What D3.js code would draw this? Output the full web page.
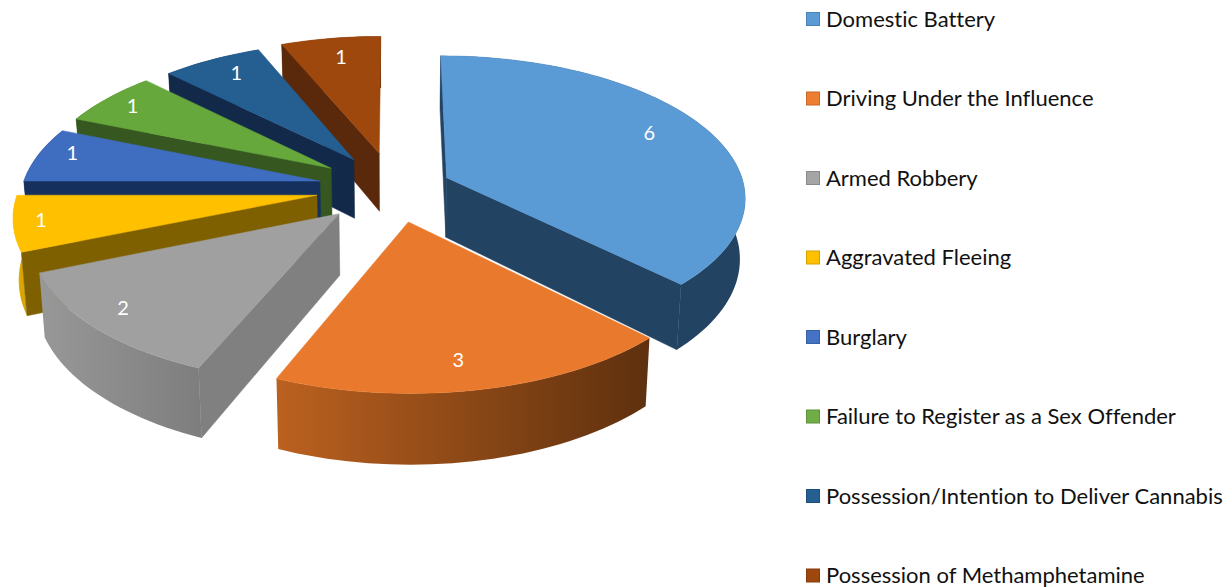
<!DOCTYPE html>
<html>
<head>
<meta charset="utf-8">
<script src="https://cdn.jsdelivr.net/npm/d3@7"></script>
<style>
html,body{margin:0;padding:0;background:#fff;overflow:hidden}
svg{display:block}
text{font-family:Lato,"Open Sans",sans-serif;font-variant-ligatures:none}
</style>
</head>
<body>
<svg id="chart" width="1232" height="587"></svg>
<script>
const categories = ["Domestic Battery","Driving Under the Influence","Armed Robbery","Aggravated Fleeing","Burglary","Failure to Register as a Sex Offender","Possession/Intention to Deliver Cannabis","Possession of Methamphetamine"];
const values = [6,3,2,1,1,1,1,1];
const topColors = ["#5b9bd5","#e97a2d","#a0a0a0","#ffc000","#3f6dc0","#66a83c","#255e91","#9e480e"];
const swatchColors = ["#5b9bd5","#ed7d31","#a5a5a5","#ffc000","#4472c4","#70ad47","#255e91","#9e480e"];
const faceColors = ["#234362","#7a3f14","#808080","#7f6000","#16305e","#36571f","#12294a","#5a280a"];
const rimLeft = ["#234362","#bb6120","#989898","#ffc000","#16305e","#36571f","#12294a","#5a280a"];
const rimRight = ["#234362","#5e300e","#7e7e7e","#d9a500","#16305e","#36571f","#12294a","#5a280a"];
const explode = [0.193,0.24,0.255,0.262,0.255,0.258,0.248,0.262];
const labelRadius = [0.80,0.84,0.87,0.91,0.89,0.88,0.84,0.82];
const labelAngle = [0.48,0.525,0.55,0.51,0.60,0.49,0.55,0.53];

const view = {cx:394, cy:188, ax:298, ay:140, k:0.128, h:60, conv:0.015};
const svg = d3.select("#chart");
const defs = svg.append("defs");

function project(X, Y, z) {
  const w = 1 - view.k * Y;
  let sx = view.ax * X / w;
  const sy = (view.ay * Y + (z ? view.h : 0)) / w;
  if (z) sx *= 1 - view.conv;
  return [view.cx + sx, view.cy + sy];
}

const pie = d3.pie().sort(null).value(d => d).startAngle(0).endAngle(2 * Math.PI);
const arcs = pie(values);
const line = d3.line();

const slices = arcs.map((a, i) => {
  const mid = (a.startAngle + a.endAngle) / 2;
  const e = explode[i];
  const ox = e * Math.sin(mid), oy = -e * Math.cos(mid);
  const n = Math.max(4, Math.round((a.endAngle - a.startAngle) / 0.03));
  const thetas = d3.range(n + 1).map(j => a.startAngle + (a.endAngle - a.startAngle) * j / n);
  const rimAt = (t, z) => project(ox + Math.sin(t), oy - Math.cos(t), z);
  return {i, a, mid, ox, oy, thetas, rimAt,
    apexTop: project(ox, oy, false), apexBot: project(ox, oy, true)};
});

// painter's order: the large first slice, then back-to-front round the left side, the second slice last
const order = [0, 7, 6, 5, 4, 3, 2, 1];

order.forEach(idx => {
  const s = slices[idx];
  const g = svg.append("g");
  const id = "rim" + idx;
  const rimTop = s.thetas.map(t => s.rimAt(t, false));
  const rimBot = s.thetas.map(t => s.rimAt(t, true));
  const xs = rimTop.map(p => p[0]);
  const grad = defs.append("linearGradient").attr("id", id).attr("gradientUnits", "userSpaceOnUse")
    .attr("x1", d3.min(xs)).attr("x2", d3.max(xs)).attr("y1", 0).attr("y2", 0);
  grad.append("stop").attr("offset", 0).attr("stop-color", rimLeft[idx]);
  grad.append("stop").attr("offset", 1).attr("stop-color", rimRight[idx]);

  // outer wall
  g.append("path").attr("d", line(rimTop.concat(rimBot.slice().reverse())) + "Z")
    .attr("fill", "url(#" + id + ")");

  // radial faces
  const startTop = rimTop[0], startBot = rimBot[0];
  const endTop = rimTop[rimTop.length - 1], endBot = rimBot[rimBot.length - 1];
  if (s.a.startAngle >= Math.PI || s.a.startAngle === 0) {
    g.append("path").attr("d", line([s.apexTop, startTop, startBot, s.apexBot]) + "Z")
      .attr("fill", faceColors[idx]).attr("stroke", faceColors[idx]).attr("stroke-width", 0.5);
  }
  if (s.a.endAngle <= Math.PI) {
    g.append("path").attr("d", line([s.apexTop, endTop, endBot, s.apexBot]) + "Z")
      .attr("fill", faceColors[idx]).attr("stroke", faceColors[idx]).attr("stroke-width", 0.5);
  }
  // top surface
  g.append("path").attr("d", line([s.apexTop].concat(rimTop)) + "Z")
    .attr("fill", topColors[idx]).attr("stroke", topColors[idx]).attr("stroke-width", 0.5);
});

// data labels
const labelPoint = s => {
  const t = s.a.startAngle + (s.a.endAngle - s.a.startAngle) * labelAngle[s.i];
  return project(s.ox + labelRadius[s.i] * Math.sin(t), s.oy - labelRadius[s.i] * Math.cos(t), false);
};
svg.append("g").selectAll("text").data(slices).join("text")
  .attr("x", s => labelPoint(s)[0])
  .attr("y", s => labelPoint(s)[1])
  .attr("dy", "0.35em").attr("text-anchor", "middle")
  .attr("fill", "#fff").attr("font-size", 20)
  .text(s => values[s.i]);

// legend
const rowY = d3.scalePoint().domain(categories).range([19, 575.5]);
const legend = svg.append("g").selectAll("g").data(categories).join("g")
  .attr("transform", d => `translate(0,${rowY(d)})`);
legend.append("rect").attr("x", 806.5).attr("y", -6.5).attr("width", 13).attr("height", 13)
  .attr("fill", (d, i) => swatchColors[i])
  .attr("stroke", (d, i) => d3.color(swatchColors[i]).darker(0.5)).attr("stroke-width", 1);
legend.append("text").attr("x", 826).attr("dy", "0.36em")
  .attr("font-size", 22).attr("fill", "#111")
  .text(d => d);
</script>
</body>
</html>
